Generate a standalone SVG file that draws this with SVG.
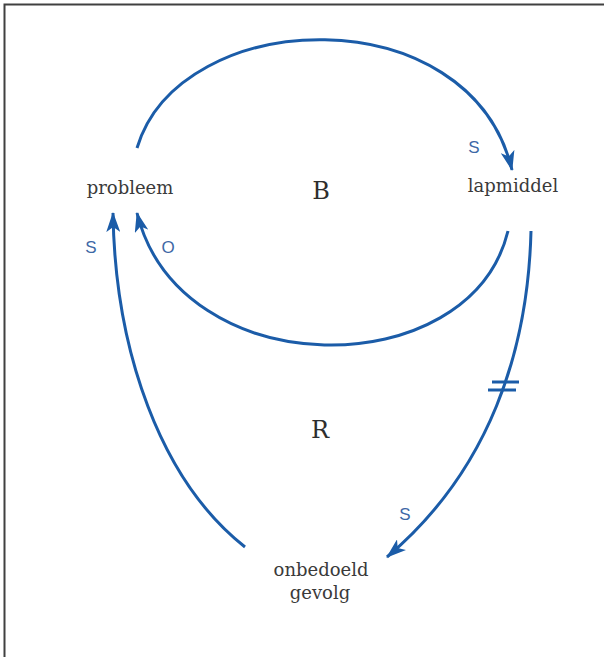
<svg xmlns="http://www.w3.org/2000/svg" width="604" height="657" viewBox="0 0 604 657">
<defs>
<style>
.node{font-family:"DejaVu Serif","Liberation Serif",serif;font-size:18px;fill:#3a3a3a;text-anchor:middle}
.loop{font-family:"DejaVu Serif","Liberation Serif",serif;font-size:24px;fill:#2e2e2e;text-anchor:middle}
.lbl{font-family:"Liberation Sans","DejaVu Sans",sans-serif;font-size:17px;fill:#3d68a6;text-anchor:middle}
.link{fill:none;stroke:#1b5ca8;stroke-width:3}
.bar{stroke:#1b5ca8;stroke-width:3}
</style>
<marker id="arr" markerUnits="userSpaceOnUse" markerWidth="20" markerHeight="14" viewBox="0 0 20 14" refX="19" refY="7" orient="auto">
<path d="M0,0 L20,7 L0,14 L5,7 z" fill="#1b5ca8"/>
</marker>
</defs>
<rect width="604" height="657" fill="#ffffff"/>
<path d="M4.5,657 V4.5 H604" fill="none" stroke="#404040" stroke-width="2"/>
<g id="connectors">
<path class="link" d="M137,148 C180,5 470,-5 512,170" marker-end="url(#arr)"/>
<path class="link" d="M508,231 C470,386 180,386 137,213" marker-end="url(#arr)"/>
<path class="link" d="M531,231 C528,350 490,470 387,557" marker-end="url(#arr)"/>
<path class="link" d="M245,547 C160,480 115,350 113,213" marker-end="url(#arr)"/>
<line class="bar" x1="492" y1="382" x2="519" y2="382"/>
<line class="bar" x1="488" y1="390" x2="516" y2="390"/>
<text class="lbl" x="474" y="153">S</text>
<text class="lbl" x="91" y="253">S</text>
<text class="lbl" x="168" y="253">O</text>
<text class="lbl" x="405" y="520">S</text>
</g>
<g id="probleem"><text class="node" x="130" y="194">probleem</text></g>
<g id="lapmiddel"><text class="node" x="513" y="192">lapmiddel</text></g>
<g id="onbedoeld-gevolg"><text class="node" x="321" y="576">onbedoeld</text><text class="node" x="320" y="599">gevolg</text></g>
<g id="loop-B"><text class="loop" x="321" y="199">B</text></g>
<g id="loop-R"><text class="loop" x="320" y="438">R</text></g>
</svg>
